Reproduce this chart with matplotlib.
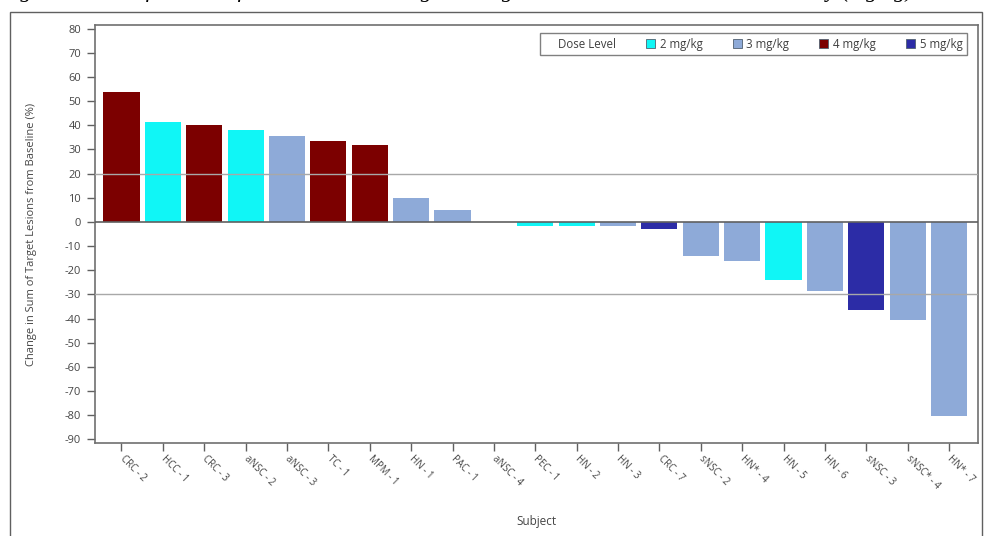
import numpy as np
import matplotlib
matplotlib.use('Agg')
from matplotlib import pyplot as plt
from matplotlib.patches import Patch, Rectangle
import matplotlib.transforms as mtransforms

# data
subjects = ['CRC - 2', 'HCC - 1', 'CRC - 3', 'aNSC - 2', 'aNSC - 3', 'TC - 1', 'MPM - 1',
            'HN - 1', 'PAC - 1', 'aNSC - 4', 'PEC - 1', 'HN - 2', 'HN - 3', 'CRC - 7',
            'sNSC - 2', 'HN* - 4', 'HN - 5', 'HN - 6', 'sNSC - 3', 'sNSC* - 4', 'HN* - 7']
change = [53.7, 41.3, 40.2, 38.2, 35.4, 33.3, 32.0,
          9.8, 4.8, 0.0, -1.5, -1.5, -1.5, -3.0,
          -14.0, -16.0, -24.0, -28.5, -36.5, -40.5, -80.5]
dose = [4, 2, 4, 2, 3, 4, 4,
        3, 3, 3, 2, 2, 3, 5,
        3, 3, 2, 3, 5, 3, 3]
dose_levels = [2, 3, 4, 5]
dose_names = ['2 mg/kg', '3 mg/kg', '4 mg/kg', '5 mg/kg']
yticks = list(range(-90, 81, 10))

colors = {2: '#10F6F6', 3: '#8EAAD8', 4: '#7C0000', 5: '#2C2CA6'}
txt = '#454545'

plt.rcParams['font.family'] = ['Open Sans', 'DejaVu Sans']

fig = plt.figure(figsize=(9.85, 5.36), dpi=100)
W, H = 985, 536
ax = fig.add_axes([95 / W, 1 - 443 / H, (978 - 95) / W, (443 - 25) / H])

x = np.arange(len(subjects))
ax.bar(x, change, width=0.875, color=[colors[d] for d in dose], zorder=2)

ax.axhline(0, color='#606060', lw=1.2, zorder=3)
ax.axhline(20, color='#A8A8A8', lw=1.0, zorder=3)
ax.axhline(-30, color='#A8A8A8', lw=1.0, zorder=3)

ax.set_xlim(-0.64, 20.7)
ax.set_ylim(-91.5, 81.5)
ax.set_yticks(yticks)
ax.set_yticklabels([str(v) for v in yticks], fontsize=8, color=txt)
ax.set_xticks(x)
ax.set_xticklabels(subjects, fontsize=7, color=txt, rotation=-45,
                   ha='left', va='center', rotation_mode='anchor')
offset = mtransforms.ScaledTranslation(-9 / 100, -3 / 100, fig.dpi_scale_trans)
for lab in ax.get_xticklabels():
    lab.set_transform(lab.get_transform() + offset)
ax.tick_params(axis='both', length=6, width=1, color='#606060', direction='out', pad=4)

for s in ax.spines.values():
    s.set_color('#707070')
    s.set_linewidth(1.2)

ax.set_ylabel('Change in Sum of Target Lesions from Baseline (%)', fontsize=8, color=txt)
ax.yaxis.set_label_coords(-0.066, 0.5)
ax.set_xlabel('Subject', fontsize=8.5, color=txt, labelpad=17)

handles = [Patch(facecolor='none', edgecolor='none', label='Dose Level')]
for d, n in zip(dose_levels, dose_names):
    handles.append(Patch(facecolor=colors[d], edgecolor='#506070', lw=0.6, label=n))
leg = ax.legend(handles=handles, ncol=5, loc='upper right',
                bbox_to_anchor=(967 / W, 1 - 33 / H), bbox_transform=fig.transFigure,
                fontsize=8.3, frameon=True, fancybox=False, handlelength=0.8,
                handleheight=0.8, handletextpad=0.4, columnspacing=2.6,
                borderpad=0.4, borderaxespad=0)
leg.get_frame().set_edgecolor('#606060')
leg.get_frame().set_linewidth(1.0)
for t in leg.get_texts():
    t.set_color('#404040')

# outer frame of the figure panel
fig.patches.append(Rectangle((10 / W, -0.01), (982 - 10) / W, 1.01 - 12 / H,
                             transform=fig.transFigure, fill=False,
                             edgecolor='#606060', lw=1.0))

# title cut off at the top of the picture
fig.text(0.0, 1 + 3 / H,
         'Figure 7: Waterfall Plot of Best Percent Change in Target Lesions \u2013 Dose Escalation Study (mg/kg)',
         family='Liberation Serif', style='italic', fontsize=16.5, va='baseline', ha='left')

fig.savefig('out.png', dpi=100)
